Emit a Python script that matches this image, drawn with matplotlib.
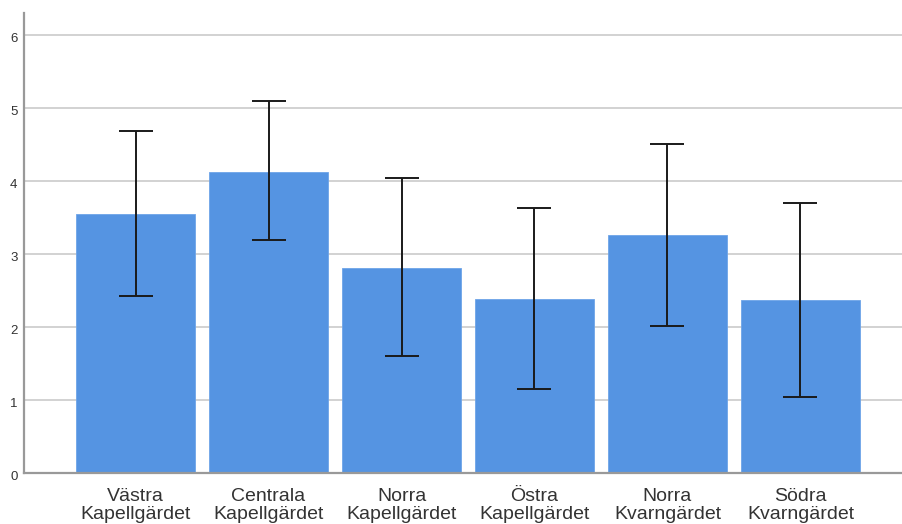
import matplotlib
matplotlib.use("Agg")
import matplotlib.pyplot as plt
import matplotlib.transforms as mtransforms

categories = ["Västra\nKapellgärdet", "Centrala\nKapellgärdet", "Norra\nKapellgärdet",
              "Östra\nKapellgärdet", "Norra\nKvarngärdet", "Södra\nKvarngärdet"]
means = [3.55, 4.13, 2.81, 2.39, 3.26, 2.37]
ci_upper = [4.69, 5.09, 4.04, 3.63, 4.51, 3.70]
ci_lower = [2.43, 3.19, 1.61, 1.15, 2.02, 1.04]
yticks = [0, 1, 2, 3, 4, 5, 6]

plt.rcParams['font.family'] = ['Liberation Sans', 'DejaVu Sans']

fig = plt.figure(figsize=(9.03, 5.24), dpi=100)
ax = fig.add_axes([24.5/903, 1 - 473.3/524, 1 - 24.5/903, (473.3 - 12.7)/524])

x = list(range(len(categories)))
ax.bar(x, means, width=0.895, color="#5594e2", edgecolor="#6ea4e8", linewidth=0.6, zorder=2)
yerr = [[m - l for m, l in zip(means, ci_lower)], [u - m for m, u in zip(means, ci_upper)]]
ax.errorbar(x, means, yerr=yerr, fmt='none', ecolor="#1a1a1a", elinewidth=1.4,
            capsize=12, capthick=1.4, zorder=3)

ax.set_xlim(-0.835, 5.771)
ax.set_ylim(0, 6.305)
ax.set_yticks(yticks)
ax.set_yticklabels([str(t) for t in yticks], fontsize=9.5, color="#333333")
ax.set_xticks(x)
ax.set_xticklabels(categories, fontsize=14, color="#333333", linespacing=1.12)
ax.tick_params(axis='both', length=0)
ax.tick_params(axis='y', pad=5)
ax.tick_params(axis='x', pad=10.5)
off = mtransforms.ScaledTranslation(0, -2.5/100, fig.dpi_scale_trans)
for lbl in ax.get_yticklabels():
    lbl.set_transform(lbl.get_transform() + off)
ax.yaxis.grid(True, color="#cfcfcf", linewidth=1.3, zorder=0)
ax.set_axisbelow(True)
for s in ['top', 'right']:
    ax.spines[s].set_visible(False)
for s in ['left', 'bottom']:
    ax.spines[s].set_color("#999999")
    ax.spines[s].set_linewidth(1.6)

fig.savefig("out.png", dpi=100)
